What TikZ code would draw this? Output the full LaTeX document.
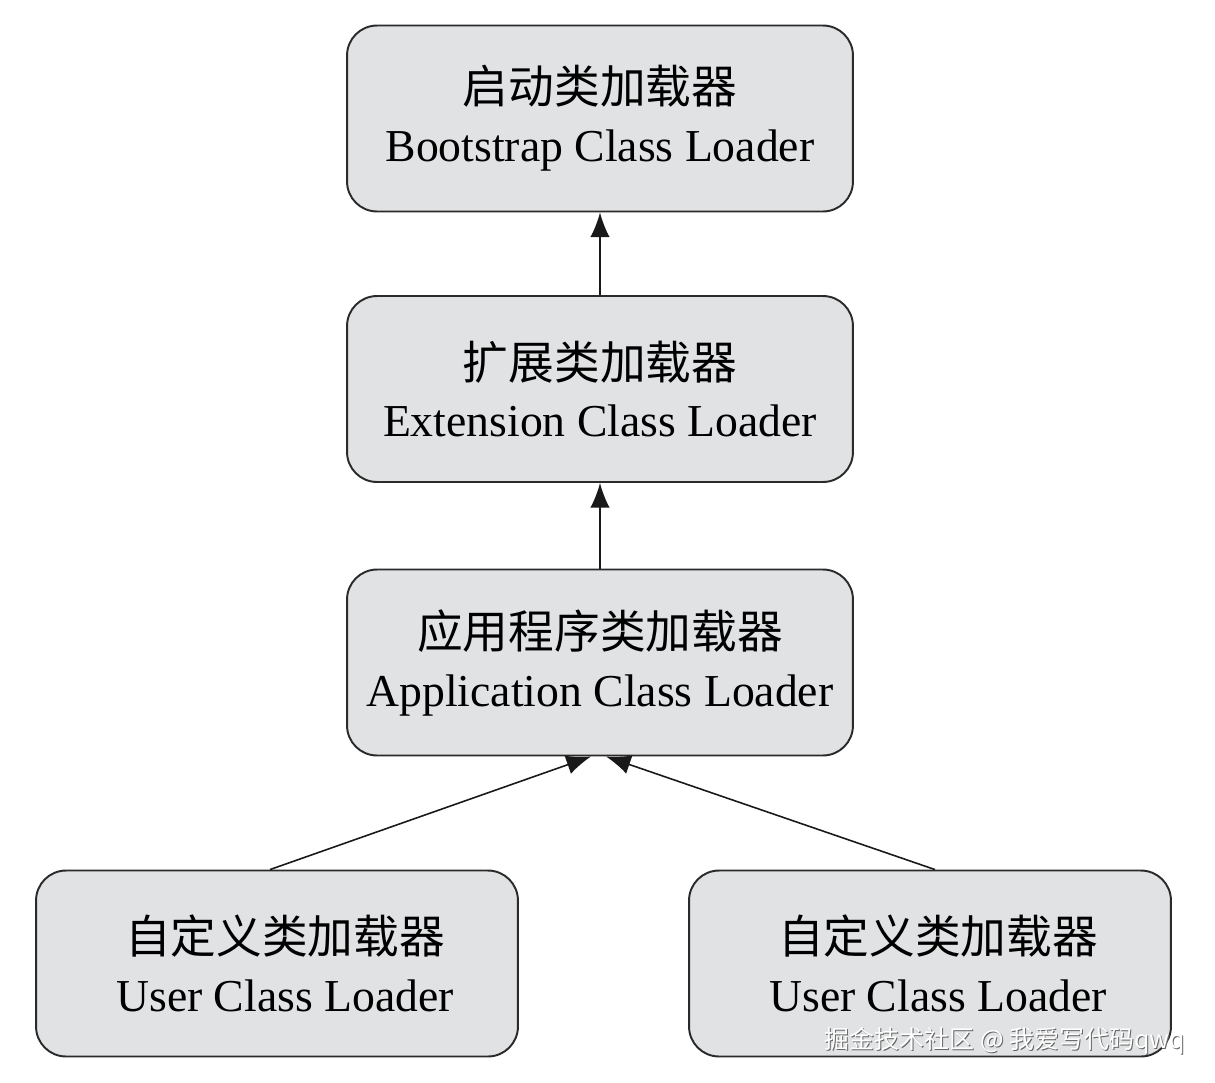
\documentclass[tikz,border=0pt]{standalone}
\usepackage{fontspec}
\setmainfont{Liberation Serif}
\newfontfamily\cjk{Noto Sans CJK SC}
\usetikzlibrary{arrows.meta}
\definecolor{boxfill}{HTML}{E0E2E3}
\definecolor{boxline}{HTML}{2A2A2A}
\tikzset{
  loader/.style={draw=boxline, line width=1.1pt, fill=boxfill, rounded corners=0.6cm,
    minimum width=10.12cm, minimum height=3.72cm, align=center, font=\fontsize{26}{33}\selectfont, inner sep=0pt},
  uloader/.style={loader, minimum width=9.64cm},
  ltext/.style={align=center, font=\fontsize{26}{33}\selectfont, inner sep=0pt},
  link/.style={line width=0.9pt, draw=black!90, -{Latex[length=14pt,width=11pt]}},
  wm/.style={font=\cjk\fontsize{14.2}{16}\selectfont, inner sep=0pt}
}
\begin{document}
\begin{tikzpicture}[x=0.02cm,y=-0.02cm]
\useasboundingbox[fill=white] (0,0) rectangle (1215,1083);
\node[loader] (boot) at (600,118.5) {{\cjk 启动类加载器}\\Bootstrap Class Loader};
\node[loader] (ext) at (600,389) {{\cjk 扩展类加载器}\\Extension Class Loader};
\node[loader] (app) at (600,662.5) {{\cjk 应用程序类加载器}\\Application Class Loader};
\node[uloader] (u1) at (277,963.5) {};
\node[uloader] (u2) at (930,963.5) {};
\node[ltext] (u1t) at (285,963.5) {{\cjk 自定义类加载器}\\User Class Loader};
\node[ltext] (u2t) at (938,963.5) {{\cjk 自定义类加载器}\\User Class Loader};
\coordinate (tipL) at (591,756.5);
\coordinate (tipR) at (606,756.5);
\draw[link] (ext.north) -- (boot.south);
\draw[link] (app.north) -- (ext.south);
\draw[link] (u1.north) ++(-7,0) coordinate (s1) (s1) -- (tipL);
\draw[link] (u2.north) ++(5,0) coordinate (s2) (s2) -- (tipR);
\node[wm, text=black!60] (wms) at (1006,1042) {掘金技术社区 @ 我爱写代码qwq};
\node[wm, text=white] (wm) at (1005,1041) {掘金技术社区 @ 我爱写代码qwq};
\end{tikzpicture}
\end{document}
